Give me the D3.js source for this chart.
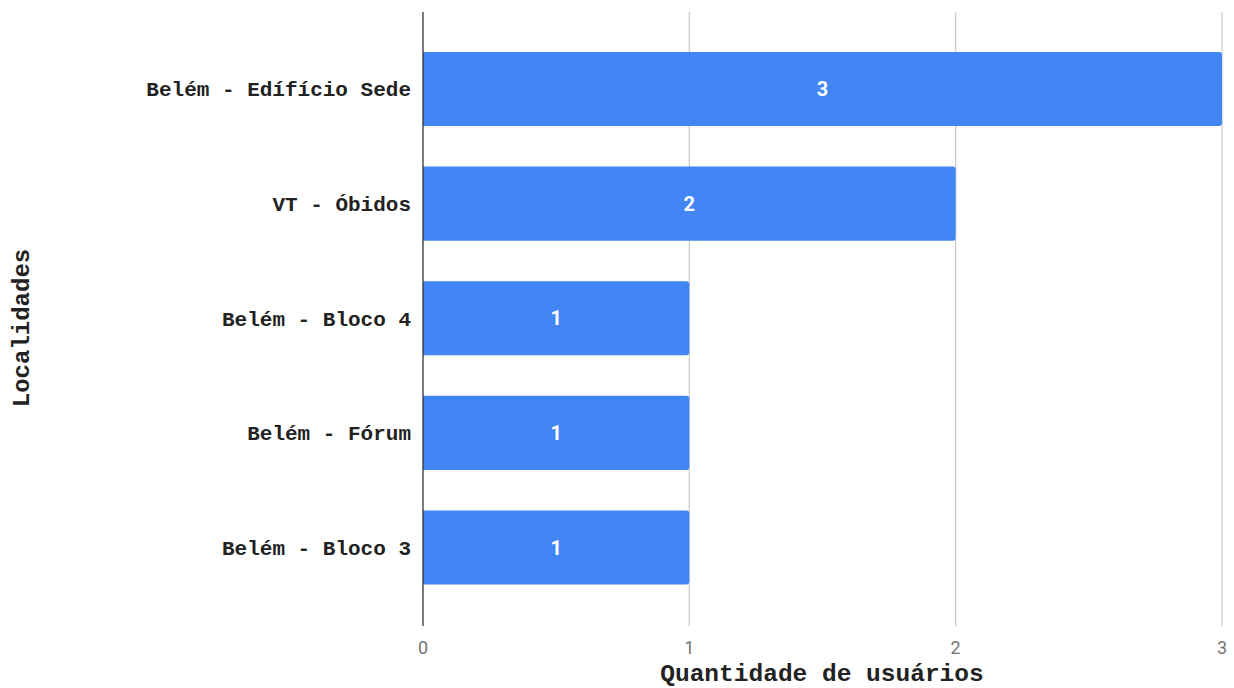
<!DOCTYPE html>
<html>
<head>
<meta charset="utf-8">
<script src="https://cdn.jsdelivr.net/npm/d3@7"></script>
<style>
  body { margin: 0; background: #fff; }
</style>
</head>
<body>
<div id="chart"></div>
<script>
// data
var localidades = ["Belém - Edífício Sede", "VT - Óbidos", "Belém - Bloco 4", "Belém - Fórum", "Belém - Bloco 3"];
var usuarios = [3, 2, 1, 1, 1];
var xTicks = [0, 1, 2, 3];

var svgWidth = 1234;
var svgHeight = 688;

var svg = d3.select("#chart")
  .append("svg")
  .attr("width", svgWidth)
  .attr("height", svgHeight);

var plotLeft = 423, plotRight = 1222, plotTop = 12, plotBottom = 626;

var xScale = d3.scaleLinear()
  .domain([0, 3])
  .range([plotLeft, plotRight]);

var yScale = d3.scaleBand()
  .domain(localidades)
  .range([31.7, 604.8])
  .paddingInner(0.354)
  .paddingOuter(0.177);

// gridlines
svg.selectAll(".grid")
  .data(xTicks.slice(1))
  .enter()
  .append("line")
  .attr("x1", d => xScale(d))
  .attr("x2", d => xScale(d))
  .attr("y1", plotTop)
  .attr("y2", plotBottom)
  .attr("stroke", "#cccccc")
  .attr("stroke-width", 1.3);

// tick labels
svg.selectAll(".tick")
  .data(xTicks)
  .enter()
  .append("text")
  .attr("x", d => xScale(d))
  .attr("y", 654)
  .attr("text-anchor", "middle")
  .style("font", "18px Roboto, sans-serif")
  .style("fill", "#757575")
  .text(d => d);

// bars with slightly rounded right end
var bars = usuarios.map((v, i) => ({ name: localidades[i], value: v }));
var r = 3;
svg.selectAll(".bar")
  .data(bars)
  .enter()
  .append("path")
  .attr("fill", "#4285f4")
  .attr("d", d => {
    var x0 = xScale(0), x1 = xScale(d.value);
    var y0 = yScale(d.name), y1 = y0 + yScale.bandwidth();
    return `M${x0},${y0}H${x1 - r}Q${x1},${y0} ${x1},${y0 + r}V${y1 - r}Q${x1},${y1} ${x1 - r},${y1}H${x0}Z`;
  });

// value labels
svg.selectAll(".val")
  .data(bars)
  .enter()
  .append("text")
  .attr("x", d => (xScale(0) + xScale(d.value)) / 2)
  .attr("y", d => yScale(d.name) + yScale.bandwidth() / 2)
  .attr("dy", "0.36em")
  .attr("text-anchor", "middle")
  .style("font", "bold 20px Roboto, sans-serif")
  .style("fill", "#ffffff")
  .text(d => d.value);

// zero axis line
svg.append("line")
  .attr("x1", xScale(0))
  .attr("x2", xScale(0))
  .attr("y1", plotTop)
  .attr("y2", plotBottom)
  .attr("stroke", "#333333")
  .attr("stroke-width", 1.3);

// category labels
svg.selectAll(".cat")
  .data(localidades)
  .enter()
  .append("text")
  .attr("x", 411)
  .attr("y", d => yScale(d) + yScale.bandwidth() / 2)
  .attr("dy", "0.35em")
  .attr("text-anchor", "end")
  .style("font", "bold 21px 'Liberation Mono', 'Courier New', monospace")
  .style("fill", "#222222")
  .text(d => d);

// axis titles
svg.append("text")
  .attr("x", 822)
  .attr("y", 681)
  .attr("text-anchor", "middle")
  .style("font", "bold 24.5px 'Liberation Mono', 'Courier New', monospace")
  .style("fill", "#222222")
  .text("Quantidade de usuários");

svg.append("text")
  .attr("transform", "translate(29, 328) rotate(-90)")
  .attr("text-anchor", "middle")
  .style("font", "bold 24px 'Liberation Mono', 'Courier New', monospace")
  .style("fill", "#222222")
  .text("Localidades");
</script>
</body>
</html>
